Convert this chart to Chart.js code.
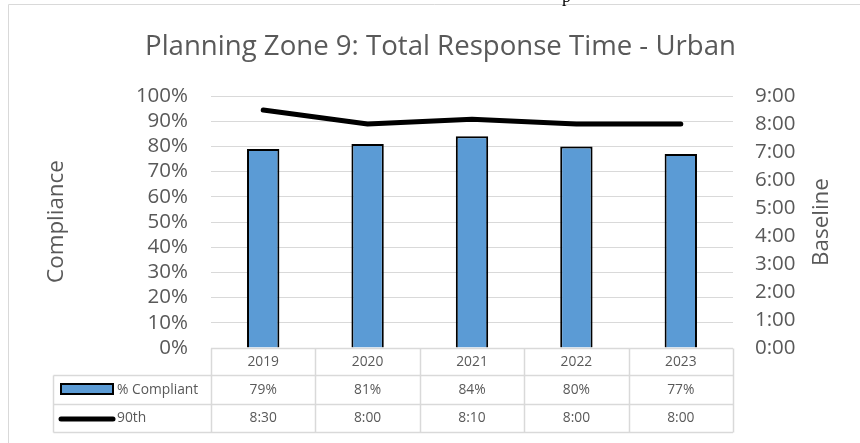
<!DOCTYPE html>
<html>
<head>
<meta charset="utf-8">
<script src="https://cdn.jsdelivr.net/npm/chart.js@4/dist/chart.umd.min.js"></script>
<style>
  html, body { margin: 0; padding: 0; background: #fff; overflow: hidden; }
  #wrap { position: relative; width: 860px; height: 443px; }
  canvas { display: block; }
</style>
</head>
<body>
<div id="wrap"><canvas id="chart" width="860" height="443"></canvas></div>
<script>
// Planning Zone 9 – urban total response time, by year
const years = ['2019', '2020', '2021', '2022', '2023'];
const compliantPct = [79, 81, 84, 80, 77];                     // % Compliant
const ninetieth = ['8:30', '8:00', '8:10', '8:00', '8:00'];     // 90th percentile (m:ss)
const seriesNames = ['% Compliant', '90th'];

const FONT = "'Open Sans', 'DejaVu Sans', sans-serif";
const TEXT = '#595959';
const GRID = '#d9d9d9';
const BAR = '#5b9bd5';

// "m:ss" -> minutes as a number for the right-hand scale
const toMinutes = s => { const [m, sec] = s.split(':').map(Number); return m + sec / 60; };
const ninetiethMin = ninetieth.map(toMinutes);

// Frame, chart title, axis titles and the data table under the plot
const decorations = {
  id: 'decorations',
  beforeDraw(chart) {
    const ctx = chart.ctx;
    ctx.save();
    ctx.strokeStyle = GRID;
    ctx.lineWidth = 1;
    ctx.beginPath();
    ctx.moveTo(8.5, 443); ctx.lineTo(8.5, 4.5); ctx.lineTo(860, 4.5);
    ctx.stroke();
    // descender of the caption line sitting above the frame
    ctx.fillStyle = '#000';
    ctx.font = "18px 'Liberation Serif', serif";
    ctx.textBaseline = 'alphabetic';
    ctx.fillText('p', 562, 2);
    ctx.restore();
  },
  afterDraw(chart) {
    const { ctx, chartArea } = chart;
    const xs = chart.scales.x;
    const n = years.length;
    const left = chartArea.left, right = chartArea.right;
    const colW = (right - left) / n;
    const top = chartArea.bottom + 0.5;
    const rows = [top, top + 27, top + 56, top + 84];
    const tableLeft = 53.5;

    ctx.save();
    // chart title
    ctx.fillStyle = TEXT;
    ctx.font = `27.6px ${FONT}`;
    ctx.textAlign = 'center';
    ctx.textBaseline = 'alphabetic';
    ctx.fillText('Planning Zone 9: Total Response Time - Urban', 440.5, 55);

    // axis titles (both read bottom to top)
    ctx.font = `22.4px ${FONT}`;
    ctx.textBaseline = 'middle';
    ctx.save();
    ctx.translate(57, 221.5); ctx.rotate(-Math.PI / 2);
    ctx.fillText('Compliance', 0, 0);
    ctx.restore();
    ctx.save();
    ctx.translate(822, 222); ctx.rotate(-Math.PI / 2);
    ctx.fillText('Baseline', 0, 0);
    ctx.restore();

    // table grid
    ctx.strokeStyle = GRID;
    ctx.lineWidth = 1.5;
    ctx.beginPath();
    ctx.moveTo(left, rows[0]); ctx.lineTo(right, rows[0]);
    for (let r = 1; r < rows.length; r++) { ctx.moveTo(tableLeft, rows[r]); ctx.lineTo(right, rows[r]); }
    ctx.moveTo(tableLeft, rows[1]); ctx.lineTo(tableLeft, rows[3]);
    for (let i = 0; i <= n; i++) {
      const x = Math.round(left + i * colW) + 0.5;
      ctx.moveTo(x, rows[0]); ctx.lineTo(x, rows[3]);
    }
    ctx.stroke();

    // cell text
    ctx.fillStyle = TEXT;
    ctx.font = `13.8px ${FONT}`;
    ctx.textAlign = 'center';
    ctx.textBaseline = 'middle';
    const mid = r => (rows[r] + rows[r + 1]) / 2;
    years.forEach((y, i) => {
      const cx = xs.getPixelForValue(i);
      ctx.fillText(y, cx, mid(0));
      ctx.fillText(Math.round(compliantPct[i]) + '%', cx, mid(1));
      ctx.fillText(ninetieth[i], cx, mid(2));
    });

    // row headers with legend keys
    ctx.textAlign = 'left';
    ctx.fillText(seriesNames[0], 117, mid(1));
    ctx.fillText(seriesNames[1], 117, mid(2));
    ctx.fillStyle = BAR;
    ctx.strokeStyle = '#000';
    ctx.lineWidth = 2;
    ctx.fillRect(61, 384, 52, 10);
    ctx.strokeRect(61, 384, 52, 10);
    ctx.lineWidth = 5;
    ctx.lineCap = 'round';
    ctx.beginPath();
    ctx.moveTo(61, mid(2) + 0.5); ctx.lineTo(113, mid(2) + 0.5);
    ctx.stroke();
    ctx.restore();
  }
};

new Chart(document.getElementById('chart'), {
  data: {
    labels: years,
    datasets: [
      {
        type: 'line',
        label: seriesNames[1],
        data: ninetiethMin,
        yAxisID: 'y2',
        borderColor: '#000',
        borderWidth: 5,
        borderCapStyle: 'round',
        borderJoinStyle: 'round',
        pointRadius: 0,
        tension: 0,
        order: 0
      },
      {
        type: 'bar',
        label: seriesNames[0],
        data: compliantPct,
        yAxisID: 'y',
        backgroundColor: BAR,
        borderColor: '#000',
        borderWidth: 2,
        barPercentage: 0.31,
        categoryPercentage: 1,
        order: 1
      }
    ]
  },
  options: {
    responsive: false,
    animation: false,
    devicePixelRatio: 1,
    layout: { padding: { top: 96, bottom: 95, left: 0, right: 0 } },
    plugins: { legend: { display: false }, title: { display: false }, tooltip: { enabled: false } },
    scales: {
      x: { type: 'category', display: false, offset: true },
      y: {
        position: 'left',
        min: 0, max: 100,
        ticks: { stepSize: 10, autoSkip: false, padding: 23, color: TEXT, font: { family: FONT, size: 20.5 }, callback: v => v + '%' },
        grid: { color: GRID, lineWidth: 1, drawTicks: false },
        border: { display: false },
        afterFit(s) { s.width = 211; }
      },
      y2: {
        position: 'right',
        min: 0, max: 9,
        ticks: { stepSize: 1, autoSkip: false, padding: 22, color: TEXT, font: { family: FONT, size: 20.5 }, callback: v => v + ':00' },
        grid: { display: false, drawTicks: false },
        border: { display: false },
        afterFit(s) { s.width = 127; }
      }
    }
  },
  plugins: [decorations]
});
</script>
</body>
</html>
